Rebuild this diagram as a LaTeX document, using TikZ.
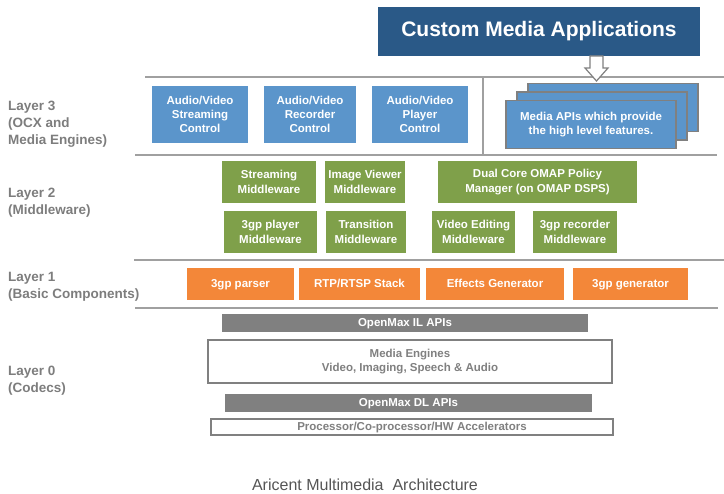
\documentclass[tikz,border=0pt]{standalone}
\usepackage{fontspec}
\setmainfont{Liberation Sans}
\definecolor{dblue}{RGB}{42,89,135}
\definecolor{lblue}{RGB}{91,149,203}
\definecolor{mgreen}{RGB}{127,160,74}
\definecolor{morange}{RGB}{243,135,57}
\definecolor{mgray}{RGB}{128,128,128}
\definecolor{lgray}{RGB}{160,160,160}
\definecolor{labgray}{RGB}{125,125,125}
\definecolor{capgray}{RGB}{85,85,85}
\tikzset{
  box/.style={rectangle, inner sep=0pt, align=center, text=white,
    font=\fontsize{11.5}{14.3}\selectfont\bfseries},
  oneline/.style={text height=8.5pt, text depth=2pt},
  bluebox/.style={box, fill=lblue},
  stackbox/.style={box, fill=lblue, draw=mgray, line width=1.2pt,
    minimum width=170pt, minimum height=48pt},
  greenbox/.style={box, fill=mgreen, minimum height=42pt},
  orangebox/.style={box, oneline, fill=morange, minimum height=32pt},
  graybar/.style={box, oneline, fill=mgray, minimum height=18pt},
  outlinebox/.style={box, draw=mgray, line width=2pt, fill=white, text=mgray},
  sepline/.style={draw=lgray, line width=2pt},
  layerlabel/.style={anchor=west, inner sep=0pt, align=left, text=labgray,
    font=\fontsize{13.5}{17}\selectfont\bfseries},
}
\begin{document}
\begin{tikzpicture}[x=1pt,y=-1pt]
\useasboundingbox (0,0) rectangle (724,494);
% separator lines
\draw[sepline] (145,77) -- (724,77);
\draw[sepline] (483,77) -- (483,155);
\draw[sepline] (135,155) -- (717,155);
\draw[sepline] (134,260) -- (724,260);
\draw[sepline] (135,308) -- (718,308);

% top application box
\node[box, fill=dblue, minimum width=322pt, minimum height=49pt,
  font=\fontsize{21}{25}\selectfont\bfseries] (cma) at (539,31.5) {Custom Media Applications};

% layer labels
\node[layerlabel] (l3) at (8,124) {Layer 3\\(OCX and\\Media Engines)};
\node[layerlabel] (l2) at (8,203) {Layer 2\\(Middleware)};
\node[layerlabel] (l1) at (8,286.5) {Layer 1\\(Basic Components)};
\node[layerlabel] (l0) at (8,381) {Layer 0\\(Codecs)};

% layer 3
\node[bluebox, minimum width=96pt, minimum height=57pt] (avs) at (200,114.5) {Audio/Video\\Streaming\\Control};
\node[bluebox, minimum width=92pt, minimum height=57pt] (avr) at (310,114.5) {Audio/Video\\Recorder\\Control};
\node[bluebox, minimum width=96pt, minimum height=57pt] (avp) at (420,114.5) {Audio/Video\\Player\\Control};
\node[stackbox] (apiC) at (613,107.5) {};
\node[stackbox] (apiB) at (602,116) {};
\node[stackbox] (apiA) at (591,124.5) {Media APIs which provide\\the high level features.};

% hollow arrow
\draw[draw=mgray, line width=1.2pt, fill=white]
  (590,56) -- (603,56) -- (603,68) -- (608,68) -- (596.5,81) -- (585,68) -- (590,68) -- cycle;

% layer 2
\node[greenbox, minimum width=94pt] (sm) at (269,182) {Streaming\\Middleware};
\node[greenbox, minimum width=80pt] (ivm) at (365,182) {Image Viewer\\Middleware};
\node[greenbox, minimum width=199pt] (dc) at (537.5,182) {Dual Core OMAP Policy\\Manager (on OMAP DSPS)};
\node[greenbox, minimum width=93pt] (gpm) at (270.5,232) {3gp player\\Middleware};
\node[greenbox, minimum width=80pt] (tm) at (366,232) {Transition\\Middleware};
\node[greenbox, minimum width=83pt] (vem) at (473.5,232) {Video Editing\\Middleware};
\node[greenbox, minimum width=84pt] (grm) at (575,232) {3gp recorder\\Middleware};

% layer 1
\node[orangebox, minimum width=107pt] (gp) at (240.5,284) {3gp parser};
\node[orangebox, minimum width=121pt] (rtp) at (359.5,284) {RTP/RTSP Stack};
\node[orangebox, minimum width=138pt] (eg) at (495,284) {Effects Generator};
\node[orangebox, minimum width=115pt] (gg) at (630.5,284) {3gp generator};

% layer 0
\node[graybar, minimum width=366pt] (il) at (405,323) {OpenMax IL APIs};
\node[outlinebox, minimum width=404pt, minimum height=43pt] (me) at (410,361.5) {Media Engines\\Video, Imaging, Speech \& Audio};
\node[graybar, minimum width=367pt] (dl) at (408.5,403) {OpenMax DL APIs};
\node[outlinebox, oneline, minimum width=402pt, minimum height=16pt] (proc) at (412,427) {Processor/Co-processor/HW Accelerators};

% caption
\node[text=capgray, font=\fontsize{16}{19}\selectfont, inner sep=0pt] (cap) at (365,485) {Aricent Multimedia\ \ Architecture};
\end{tikzpicture}
\end{document}
